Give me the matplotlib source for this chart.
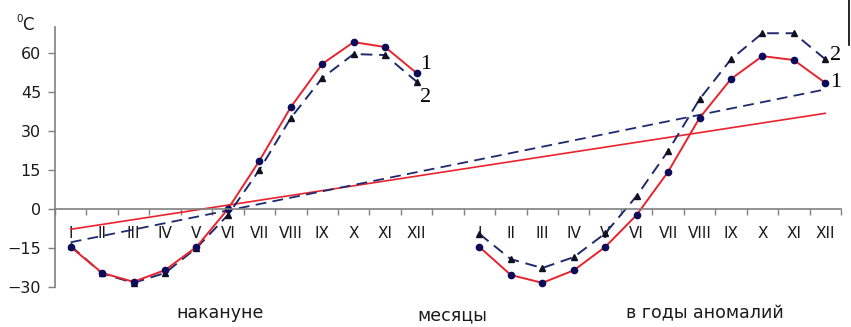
import numpy as np
import matplotlib.pyplot as plt
from matplotlib.lines import Line2D

plt.rcParams['font.family'] = ['DejaVu Sans']

months = ['I', 'II', 'III', 'IV', 'V', 'VI', 'VII', 'VIII', 'IX', 'X', 'XI', 'XII']
# tick labels: 12 months, one empty slot, 12 months
tick_labels = months + [''] + months

# series 1 (red, solid) and series 2 (navy, dashed)
before_1 = [-14.6, -24.6, -28.0, -23.5, -14.6, 0.0, 18.5, 39.2, 55.8, 64.2, 62.3, 52.3]
before_2 = [-14.2, -24.8, -28.4, -24.6, -15.0, -2.3, 15.0, 35.0, 50.4, 59.6, 59.2, 49.0]
anom_1 = [-14.6, -25.4, -28.4, -23.6, -14.6, -2.3, 14.3, 35.0, 50.0, 58.8, 57.3, 48.5]
anom_2 = [-9.6, -19.3, -22.7, -18.5, -9.4, 5.0, 22.3, 42.2, 57.6, 67.6, 67.6, 57.6]

# linear trends (start, end)
trend_1 = [-7.8, 36.8]
trend_2 = [-12.8, 46.0]

red = '#e8232d'
navy = '#1e2a6e'
mk = '#0c0c5a'
txt = '#1a1a1a'

fig = plt.figure(figsize=(8.51, 3.27), dpi=100)
ax = fig.add_axes([55 / 851, 1 - 287 / 327, (841 - 55) / 851, (287 - 27) / 327])

x1 = np.arange(12)
x2 = np.arange(13, 25)
xt = [0, len(tick_labels) - 1]

ax.plot(xt, trend_1, color=red, lw=1.2)
ax.plot(xt, trend_2, color=navy, lw=1.3, ls=(0, (6, 3.5)))

for xs, ys in [(x1, before_2), (x2, anom_2)]:
    ax.plot(xs, ys, color=navy, lw=1.4, ls=(0, (6, 3.5)),
            marker='^', ms=4, mfc='#111122', mec='#111122')
for xs, ys in [(x1, before_1), (x2, anom_1)]:
    ax.plot(xs, ys, color=red, lw=1.4, marker='o', ms=4.5, mfc=mk, mec=mk)

ax.set_xlim(-0.5, 24.5)
ax.set_ylim(-30, 70)
ax.set_yticks([-30, -15, 0, 15, 30, 45, 60])
ax.set_xticks(np.arange(25))
ax.set_xticklabels(tick_labels)
ax.set_xticks(np.arange(-0.5, 25, 1), minor=True)

for s in ['top', 'right']:
    ax.spines[s].set_visible(False)
ax.spines['bottom'].set_position(('data', 0))
for s in ['left', 'bottom']:
    ax.spines[s].set_color('#808080')
    ax.spines[s].set_linewidth(1.2)

ax.tick_params(axis='x', which='major', length=0, pad=12, labelsize=11, labelcolor=txt)
ax.tick_params(axis='x', which='minor', length=4, width=1, color='#808080', direction='out')
ax.tick_params(axis='y', length=5, width=1, color='#808080', labelsize=11.5, labelcolor=txt, pad=5)

serif = 'Liberation Serif'
ax.text(11.12, 55.5, '1', fontsize=16, family=serif, ha='left', va='center')
ax.text(11.12, 42.7, '2', fontsize=16, family=serif, ha='left', va='center')
ax.text(24.15, 59.0, '2', fontsize=16, family=serif, ha='left', va='center')
ax.text(24.15, 48.5, '1', fontsize=16, family=serif, ha='left', va='center')

fig.text(16 / 851, 1 - 19 / 327, '0', fontsize=7.5, color=txt, ha='left', va='center')
fig.text(22 / 851, 1 - 25 / 327, 'C', fontsize=12, color=txt, ha='left', va='center')

fig.text(220 / 851, 1 - 313 / 327, 'накануне', fontsize=12.5, color=txt, ha='center', va='center')
fig.text(452 / 851, 1 - 315 / 327, 'месяцы', fontsize=12.5, color=txt, ha='center', va='center')
fig.text(705 / 851, 1 - 313 / 327, 'в годы аномалий', fontsize=12.5, color=txt, ha='center', va='center')

fig.add_artist(Line2D([849 / 851, 849 / 851], [1, 1 - 45 / 327], color='black', lw=1.2))

fig.savefig('out.png', dpi=100)
